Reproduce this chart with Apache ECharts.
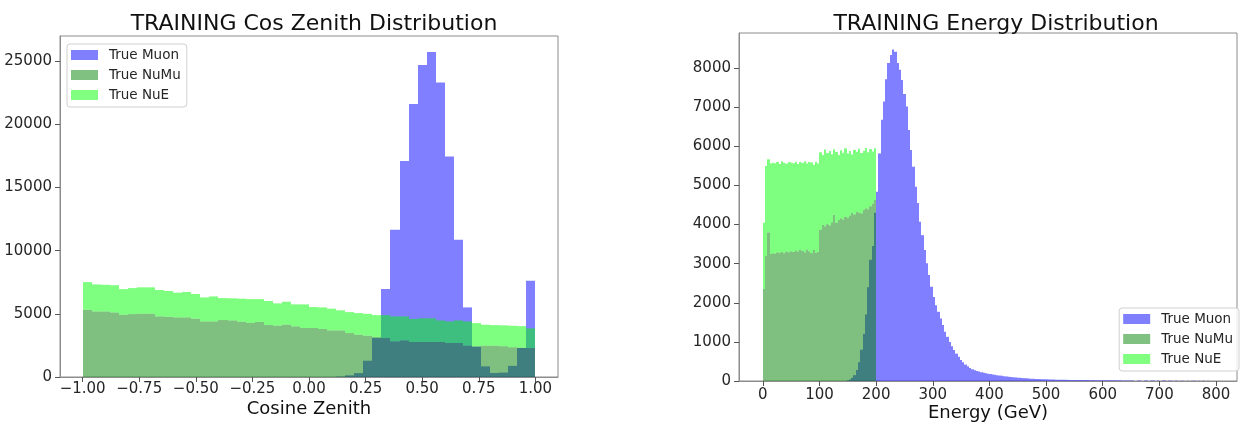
<!DOCTYPE html>
<html>
<head>
<meta charset="utf-8">
<script src="https://cdn.jsdelivr.net/npm/echarts@6/dist/echarts.min.js"></script>
<style>
  html, body { margin: 0; padding: 0; background: #fff; }
  #chart { width: 1241px; height: 423px; }
</style>
</head>
<body>
<div id="chart"></div>
<script>
// ---- Cos zenith histogram: 50 bins of width 0.04 from -1 to 1 ----
const cosBinStart = -1;
const cosBinWidth = 0.04;
const cosMuon = [
  0, 0, 0, 0, 0, 0, 0, 0, 0, 0,
  0, 0, 0, 0, 0, 0, 0, 0, 0, 0,
  0, 0, 0, 0, 0, 0, 0, 0, 30, 130,
  310, 1290, 3090, 6960, 11650, 17110, 21620, 24710, 25740, 23310,
  17450, 10860, 5510, 2400, 840, 320, 350, 880, 2300, 7630
];
const cosNuMu = [
  5325, 5190, 5190, 5110, 4930, 4980, 5010, 5010, 4800, 4770,
  4720, 4720, 4620, 4400, 4400, 4510, 4480, 4380, 4280, 4360,
  4120, 4070, 4150, 4010, 3880, 3880, 3800, 3690, 3690, 3480,
  3350, 3270, 3170, 3085, 2820, 2900, 2770, 2770, 2770, 2770,
  2690, 2690, 2480, 2430, 2480, 2480, 2440, 2360, 2320, 2290
];
// NuE counts, stacked on top of NuMu
const cosNuE = [
  2190, 2140, 2110, 2160, 2030, 2060, 2090, 2090, 2090, 2040,
  1960, 2010, 1950, 1900, 1980, 1740, 1750, 1820, 1890, 1810,
  1900, 1760, 1810, 1740, 1870, 1660, 1710, 1720, 1590, 1660,
  1710, 1730, 1730, 1815, 1980, 1900, 1830, 1880, 1880, 1710,
  1710, 1790, 1920, 1840, 1660, 1630, 1650, 1700, 1710, 1560
];
const cosTickValues = [-1, -0.75, -0.5, -0.25, 0, 0.25, 0.5, 0.75, 1];
const cosTickLabels = ['\u22121.00', '\u22120.75', '\u22120.50', '\u22120.25', '0.00', '0.25', '0.50', '0.75', '1.00'];
const cosCountTicks = [0, 5000, 10000, 15000, 20000, 25000];

// ---- Energy histogram: 200 bins of width 4 GeV from 0 to 800 ----
const energyBinStart = 0;
const energyBinWidth = 4;
const energyMuon = [
  0, 0, 0, 0, 0, 0, 0, 0, 0, 0,
  0, 0, 0, 0, 0, 0, 0, 0, 0, 0,
  0, 0, 0, 0, 0, 0, 0, 0, 0, 0,
  0, 0, 0, 0, 0, 0, 0, 20, 40, 80,
  150, 280, 480, 800, 1200, 1700, 2400, 3100, 3450, 4300,
  4840, 5820, 6680, 7150, 7720, 8130, 8340, 8480, 8420, 8130,
  7960, 7700, 7340, 7020, 6420, 5910, 5480, 4970, 4550, 4070,
  3730, 3350, 3010, 2710, 2410, 2150, 1940, 1770, 1600, 1430,
  1260, 1130, 1000, 890, 790, 700, 620, 540, 480, 420,
  375, 335, 300, 275, 255, 240, 225, 212, 200, 188,
  178, 168, 158, 148, 140, 132, 124, 117, 110, 104,
  98, 92, 86, 81, 76, 72, 68, 64, 60, 57,
  54, 51, 48, 46, 44, 42, 40, 38, 36, 35,
  33, 32, 31, 30, 29, 28, 27, 26, 26, 25,
  24, 24, 23, 23, 22, 22, 21, 21, 20, 20,
  19, 19, 18, 18, 17, 17, 16, 16, 15, 15,
  14, 14, 13, 13, 0, 12, 12, 0, 12, 11,
  0, 11, 11, 0, 10, 0, 10, 10, 0, 10,
  9, 0, 9, 0, 9, 9, 0, 8, 0, 8,
  8, 0, 8, 0, 7, 0, 7, 0, 0, 0
];
const energyNuMu = [
  2350, 3200, 3800, 3250, 3270, 3260, 3290, 3280, 3300, 3270,
  3310, 3290, 3320, 3300, 3340, 3310, 3350, 3330, 3290, 3360,
  3320, 3270, 3350, 3280, 3300, 3870, 3990, 3960, 4010, 3980,
  4060, 4250, 4050, 4120, 4160, 4130, 4200, 4170, 4230, 4300,
  4260, 4330, 4310, 4290, 4380, 4420, 4390, 4470, 4540, 4630
];
// NuE counts, stacked on top of NuMu
const energyNuE = [
  1700, 2300, 1870, 2310, 2310, 2310, 2310, 2270, 2320, 2310,
  2250, 2310, 2270, 2270, 2270, 2240, 2250, 2250, 2330, 2200,
  2280, 2320, 2180, 2330, 2260, 1980, 1790, 1960, 1820, 1900,
  1740, 1680, 1810, 1660, 1740, 1710, 1750, 1650, 1650, 1490,
  1650, 1530, 1630, 1540, 1510, 1540, 1460, 1460, 1330, 1320
];
const energyTickValues = [0, 100, 200, 300, 400, 500, 600, 700, 800];
const energyTickLabels = ['0', '100', '200', '300', '400', '500', '600', '700', '800'];
const energyCountTicks = [0, 1000, 2000, 3000, 4000, 5000, 6000, 7000, 8000];

const seriesNames = ['True Muon', 'True NuMu', 'True NuE'];
const fillColors = ['rgba(0,0,255,0.5)', 'rgba(0,128,0,0.5)', 'rgba(0,255,0,0.5)'];
const legendColors = ['#8080ff', '#80c080', '#80ff80'];

const FONT = '"DejaVu Sans", sans-serif';
const TEXT = '#262626';
const FRAME = '#8c8c8c';
const TICK_FONT_SIZE = 15;

// [left edge, right edge, bottom, top] per non-empty bin
function histBins(start, width, values, base) {
  const out = [];
  values.forEach((v, i) => {
    if (!v) return;
    const b = base ? base[i] || 0 : 0;
    out.push([start + i * width, start + (i + 1) * width, b, b + v]);
  });
  return out;
}

function binRenderer(fill) {
  return function (params, api) {
    const tl = api.coord([api.value(0), api.value(3)]);
    const br = api.coord([api.value(1), api.value(2)]);
    const x0 = Math.round(tl[0]);
    const x1 = Math.round(br[0]);
    return {
      type: 'rect',
      shape: { x: x0, y: tl[1], width: x1 - x0, height: br[1] - tl[1] },
      style: { fill: fill }
    };
  };
}

function histSeries(name, idx, data, axisIndex) {
  return {
    type: 'custom',
    name: name,
    xAxisIndex: axisIndex,
    yAxisIndex: axisIndex,
    renderItem: binRenderer(fillColors[idx]),
    encode: { x: [0, 1], y: [2, 3] },
    itemStyle: { color: legendColors[idx] },
    data: data,
    silent: true,
    animation: false
  };
}

function tickLabel(values, labels) {
  return v => {
    const i = values.findIndex(t => Math.abs(t - v) < 1e-9);
    return i >= 0 ? labels[i] : '';
  };
}

function xAxisOf(gridIndex, min, max, ticks, labels, name, nameGap, margin) {
  return {
    type: 'value', gridIndex, min, max,
    splitLine: { show: false },
    axisLine: { show: true, onZero: false, lineStyle: { color: FRAME, width: 1 } },
    axisTick: { show: true, length: 5, lineStyle: { color: '#555' }, customValues: ticks },
    axisLabel: {
      customValues: ticks, formatter: tickLabel(ticks, labels), margin: margin,
      fontFamily: FONT, fontSize: TICK_FONT_SIZE, color: TEXT, hideOverlap: false
    },
    name, nameLocation: 'middle', nameGap, nameMoveOverlap: false,
    nameTextStyle: { fontFamily: FONT, fontSize: 18, color: '#111' }
  };
}

function yAxisOf(gridIndex, max, ticks) {
  const labels = ticks.map(String);
  return {
    type: 'value', gridIndex, min: 0, max,
    splitLine: { show: false },
    axisLine: { show: true, onZero: false, lineStyle: { color: FRAME, width: 1 } },
    axisTick: { show: true, length: 5, lineStyle: { color: '#555' }, customValues: ticks },
    axisLabel: {
      customValues: ticks, formatter: tickLabel(ticks, labels), margin: 8,
      fontFamily: FONT, fontSize: TICK_FONT_SIZE, color: TEXT, hideOverlap: false
    }
  };
}

function legendOf(pos) {
  return Object.assign({
    orient: 'vertical',
    icon: 'rect',
    itemWidth: 27,
    itemHeight: 10,
    itemGap: 6,
    padding: [4, 6, 5, 4],
    backgroundColor: 'rgba(255,255,255,0.8)',
    borderColor: '#d0d0d0',
    borderWidth: 1,
    borderRadius: 3,
    selectedMode: false,
    textStyle: { fontFamily: FONT, fontSize: 13.5, color: TEXT, lineHeight: 14, padding: [0, 0, 0, 6] },
    data: seriesNames.map((n, i) => ({ name: n, itemStyle: { color: legendColors[i], opacity: 1 } }))
  }, pos);
}

function gridOf(left, top, width, height) {
  return {
    left, top, width, height,
    outerBoundsMode: 'none',
    show: true, borderColor: FRAME, borderWidth: 1, backgroundColor: 'transparent'
  };
}

const chart = echarts.init(document.getElementById('chart'), null, { renderer: 'canvas' });

chart.setOption({
  animation: false,
  backgroundColor: '#ffffff',
  title: [
    { text: 'TRAINING Cos Zenith Distribution', left: 309, top: 8, textAlign: 'center',
      textStyle: { fontFamily: FONT, fontSize: 22, fontWeight: 'normal', color: '#111' } },
    { text: 'TRAINING Energy Distribution', left: 991, top: 8, textAlign: 'center',
      textStyle: { fontFamily: FONT, fontSize: 22, fontWeight: 'normal', color: '#111' } }
  ],
  grid: [
    gridOf(60, 36, 498, 341),
    gridOf(739, 33, 498, 348)
  ],
  xAxis: [
    xAxisOf(0, -1.1, 1.1, cosTickValues, cosTickLabels, 'Cosine Zenith', 23, 5),
    xAxisOf(1, -42, 837, energyTickValues, energyTickLabels, 'Energy (GeV)', 23, 7)
  ],
  yAxis: [
    yAxisOf(0, 27000, cosCountTicks),
    yAxisOf(1, 8900, energyCountTicks)
  ],
  legend: [
    legendOf({ left: 67, top: 44 }),
    legendOf({ right: 2, top: 308 })
  ],
  series: [
    histSeries(seriesNames[0], 0, histBins(cosBinStart, cosBinWidth, cosMuon), 0),
    histSeries(seriesNames[1], 1, histBins(cosBinStart, cosBinWidth, cosNuMu), 0),
    histSeries(seriesNames[2], 2, histBins(cosBinStart, cosBinWidth, cosNuE, cosNuMu), 0),
    histSeries(seriesNames[0], 0, histBins(energyBinStart, energyBinWidth, energyMuon), 1),
    histSeries(seriesNames[1], 1, histBins(energyBinStart, energyBinWidth, energyNuMu), 1),
    histSeries(seriesNames[2], 2, histBins(energyBinStart, energyBinWidth, energyNuE, energyNuMu), 1)
  ]
});
</script>
</body>
</html>
